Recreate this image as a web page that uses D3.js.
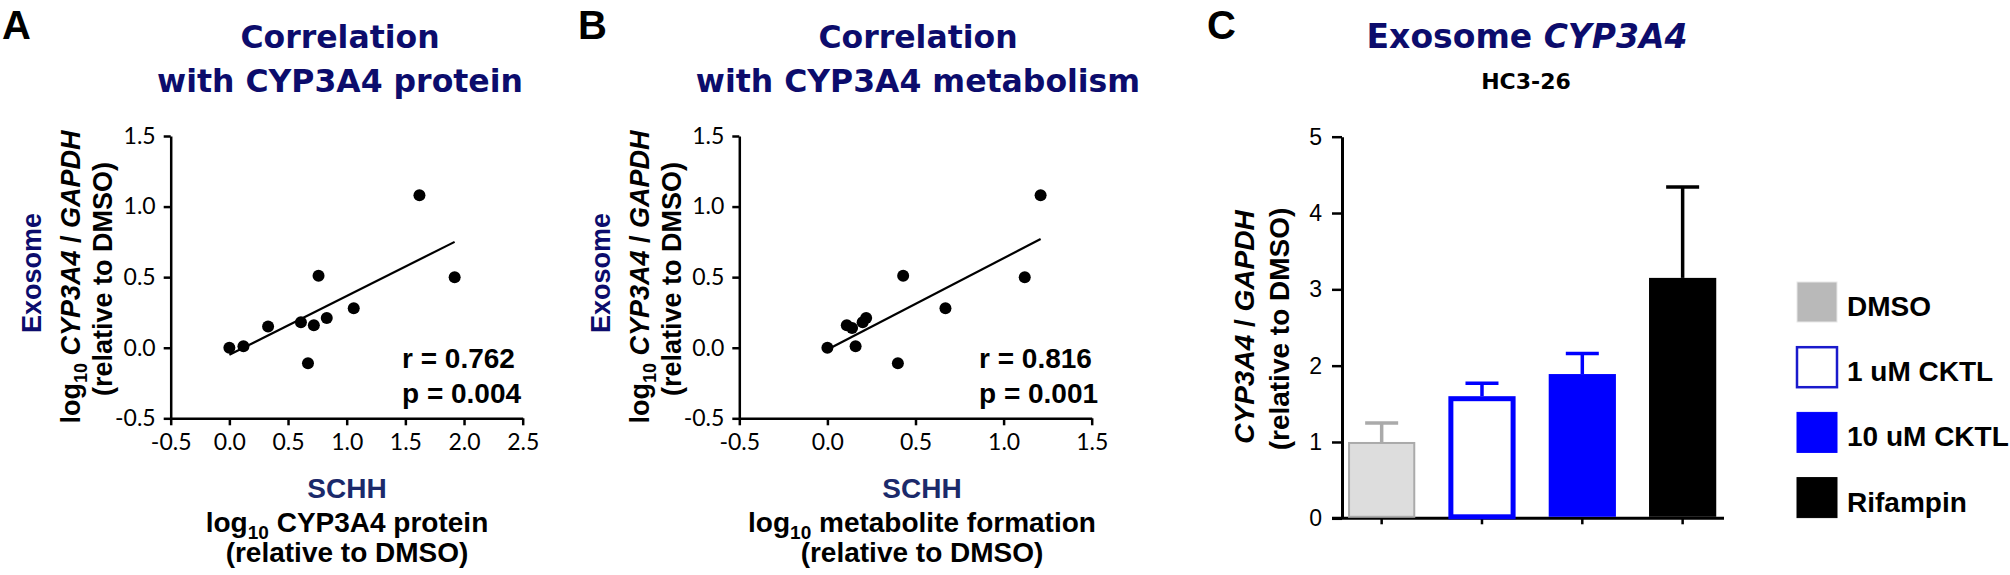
<!DOCTYPE html>
<html>
<head>
<meta charset="utf-8">
<script src="https://cdn.jsdelivr.net/npm/d3@7"></script>
<style>
  body { margin: 0; background: #fff; }
</style>
</head>
<body>
<div id="figure"></div>
<script>
// ---- data ----
// panel A: exosome CYP3A4 vs SCHH CYP3A4 protein (log10)
var protX = [0.00, 0.12, 0.33, 0.61, 0.72, 0.67, 0.76, 0.83, 1.06, 1.62, 1.92];
var protY = [0.00, 0.01, 0.15, 0.18, 0.16, -0.11, 0.51, 0.21, 0.28, 1.08, 0.50];
var protFit = [[0.00, -0.05], [1.92, 0.75]];
var protStats = ["r = 0.762", "p = 0.004"];
var protTicks = [-0.5, 0.0, 0.5, 1.0, 1.5, 2.0, 2.5];

// panel B: exosome CYP3A4 vs SCHH metabolite formation (log10)
var metabX = [0.00, 0.11, 0.14, 0.16, 0.20, 0.22, 0.40, 0.43, 0.67, 1.12, 1.21];
var metabY = [0.00, 0.16, 0.14, 0.01, 0.18, 0.21, -0.11, 0.51, 0.28, 0.50, 1.08];
var metabFit = [[0.02, 0.00], [1.21, 0.77]];
var metabStats = ["r = 0.816", "p = 0.001"];
var metabTicks = [-0.5, 0.0, 0.5, 1.0, 1.5];

var corrYTicks = [-0.5, 0.0, 0.5, 1.0, 1.5];

// panel C: exosome CYP3A4 in HC3-26
var groups = ["DMSO", "1 uM CKTL", "10 uM CKTL", "Rifampin"];
var means = [1.00, 1.60, 1.89, 3.15];
var sems = [0.25, 0.17, 0.27, 1.19];
var barTicks = [0, 1, 2, 3, 4, 5];

// styles
var navy = "#0c0c6c";
var barFill = ["#dddddd", "#ffffff", "#0000ff", "#000000"];
var barStroke = ["#aaaaaa", "#0000ff", "#0000ff", "#000000"];
var barStrokeW = [2, 5, 0, 0];
var errColor = ["#aaaaaa", "#0000ff", "#0000ff", "#000000"];
var keyFill = ["#b9b9b9", "#ffffff", "#0000ff", "#000000"];
var keyStroke = ["#e8e8e8", "#1a1acc", "#0000ff", "#000000"];

var W = 2010, H = 575;
var svg = d3.select("#figure").append("svg")
    .attr("width", W)
    .attr("height", H);

var titleFont = "'DejaVu Sans', Verdana, sans-serif",
    labelFont = "'Liberation Sans', Arial, sans-serif",
    tickFont = "Lato, 'Open Sans', sans-serif";

function styleAxis(g, font, size) {
  g.attr("font-family", font).attr("font-size", size);
  g.select(".domain").attr("stroke", "#000").attr("stroke-width", 2.5);
  g.selectAll(".tick line").attr("stroke", "#000").attr("stroke-width", 2.5);
  g.selectAll(".tick text").attr("fill", "#000");
}

// panel letters
[["A", 2], ["B", 578], ["C", 1207]].forEach(function(p) {
  svg.append("text")
      .attr("x", p[1]).attr("y", 39)
      .attr("font-family", labelFont)
      .attr("font-weight", "bold")
      .attr("font-size", 40)
      .text(p[0]);
});

// ---- scatter panels ----
function scatterPanel(o) {
  var x = d3.scaleLinear().domain(o.xDomain).range(o.xRange),
      y = d3.scaleLinear().domain([-0.5, 1.5]).range([418.3, 136]);

  var fmt = function(d) { return d.toFixed(1); };

  var gx = svg.append("g")
      .attr("transform", "translate(0," + y(-0.5) + ")")
      .call(d3.axisBottom(x).tickValues(o.xTicks).tickFormat(fmt)
            .tickSize(7).tickSizeOuter(0).tickPadding(8));
  styleAxis(gx, tickFont, 23);

  var gy = svg.append("g")
      .attr("transform", "translate(" + x(o.xDomain[0]) + ",0)")
      .call(d3.axisLeft(y).tickValues(corrYTicks).tickFormat(fmt)
            .tickSize(7).tickSizeOuter(0).tickPadding(8));
  styleAxis(gy, tickFont, 23);

  // fit line
  svg.append("line")
      .attr("x1", x(o.fit[0][0])).attr("y1", y(o.fit[0][1]))
      .attr("x2", x(o.fit[1][0])).attr("y2", y(o.fit[1][1]))
      .attr("stroke", "#000")
      .attr("stroke-width", 2.2);

  // dots
  svg.selectAll(null)
      .data(d3.zip(o.xs, o.ys))
      .enter().append("circle")
      .attr("cx", function(d) { return x(d[0]); })
      .attr("cy", function(d) { return y(d[1]); })
      .attr("r", 6)
      .attr("fill", "#000");

  // r and p
  o.stats.forEach(function(s, i) {
    svg.append("text")
        .attr("x", o.statX).attr("y", 368 + i * 35)
        .attr("font-family", labelFont)
        .attr("font-weight", "bold")
        .attr("font-size", 28)
        .text(s);
  });

  // title
  o.title.forEach(function(t, i) {
    svg.append("text")
        .attr("x", o.titleX).attr("y", 48 + i * 44)
        .attr("text-anchor", "middle")
        .attr("font-family", titleFont)
        .attr("font-weight", "bold")
        .attr("font-size", 31.5)
        .attr("fill", navy)
        .text(t);
  });

  // y title, rotated
  var yl = o.yLabelX, cy = 277;
  svg.append("text")
      .attr("transform", "translate(" + yl + "," + (cy - 4) + ") rotate(-90)")
      .attr("text-anchor", "middle")
      .attr("font-family", labelFont).attr("font-weight", "bold")
      .attr("font-size", 27).attr("fill", navy)
      .text("Exosome");

  var t2 = svg.append("text")
      .attr("transform", "translate(" + (yl + 39) + "," + cy + ") rotate(-90)")
      .attr("text-anchor", "middle")
      .attr("font-family", labelFont).attr("font-weight", "bold")
      .attr("font-size", 27);
  t2.append("tspan").text("log");
  t2.append("tspan").attr("font-size", 18).attr("dy", 7).text("10");
  t2.append("tspan").attr("dy", -7).text(" ");
  t2.append("tspan").attr("font-style", "italic").text("CYP3A4");
  t2.append("tspan").text(" / ");
  t2.append("tspan").attr("font-style", "italic").text("GAPDH");

  svg.append("text")
      .attr("transform", "translate(" + (yl + 71) + "," + (cy + 2) + ") rotate(-90)")
      .attr("text-anchor", "middle")
      .attr("font-family", labelFont).attr("font-weight", "bold")
      .attr("font-size", 27)
      .text("(relative to DMSO)");

  // x title
  svg.append("text")
      .attr("x", o.xLabelX).attr("y", 498)
      .attr("text-anchor", "middle")
      .attr("font-family", labelFont).attr("font-weight", "bold")
      .attr("font-size", 28).attr("fill", "#1b2a6b")
      .text("SCHH");

  var x2 = svg.append("text")
      .attr("x", o.xLabelX).attr("y", 532)
      .attr("text-anchor", "middle")
      .attr("font-family", labelFont).attr("font-weight", "bold")
      .attr("font-size", 28);
  x2.append("tspan").text("log");
  x2.append("tspan").attr("font-size", 19).attr("dy", 7).text("10");
  x2.append("tspan").attr("dy", -7).text(" " + o.xLabel);

  svg.append("text")
      .attr("x", o.xLabelX).attr("y", 562)
      .attr("text-anchor", "middle")
      .attr("font-family", labelFont).attr("font-weight", "bold")
      .attr("font-size", 28)
      .text("(relative to DMSO)");
}

scatterPanel({
  xs: protX, ys: protY, fit: protFit, stats: protStats,
  xDomain: [-0.5, 2.5], xRange: [170.7, 522.7], xTicks: protTicks,
  statX: 402, titleX: 340, yLabelX: 41, xLabelX: 347,
  title: ["Correlation", "with CYP3A4 protein"],
  xLabel: "CYP3A4 protein"
});

scatterPanel({
  xs: metabX, ys: metabY, fit: metabFit, stats: metabStats,
  xDomain: [-0.5, 1.5], xRange: [739.3, 1091.7], xTicks: metabTicks,
  statX: 979, titleX: 918, yLabelX: 609.6, xLabelX: 922,
  title: ["Correlation", "with CYP3A4 metabolism"],
  xLabel: "metabolite formation"
});

// ---- bar panel C ----
var xC = d3.scaleBand().domain(groups)
    .range([1331.5, 1732.8])
    .paddingInner(0.33).paddingOuter(0.165);
var yC = d3.scaleLinear().domain([0, 5]).range([518.3, 136.7]);

var gyC = svg.append("g")
    .attr("transform", "translate(1342,0)")
    .call(d3.axisLeft(yC).tickValues(barTicks).tickFormat(d3.format("d"))
          .tickSize(10).tickSizeOuter(0).tickPadding(10));
styleAxis(gyC, labelFont, 23);
gyC.select(".domain").attr("stroke-width", 3);

var gxC = svg.append("g")
    .attr("transform", "translate(0," + yC(0) + ")")
    .call(d3.axisBottom(xC).tickSize(6).tickSizeOuter(0).tickFormat(""));
styleAxis(gxC, labelFont, 23);
gxC.select(".domain").attr("d", "M1332,0H1724").attr("stroke-width", 3);

// error bars (upper only) under the bars
groups.forEach(function(g, i) {
  var cx = xC(g) + xC.bandwidth() / 2;
  var top = yC(means[i] + sems[i]);
  svg.append("line")
      .attr("x1", cx).attr("x2", cx)
      .attr("y1", yC(means[i])).attr("y2", top)
      .attr("stroke", errColor[i]).attr("stroke-width", 3.5);
  svg.append("line")
      .attr("x1", cx - 16.5).attr("x2", cx + 16.5)
      .attr("y1", top).attr("y2", top)
      .attr("stroke", errColor[i]).attr("stroke-width", 3.5);
});

svg.selectAll(".bar")
    .data(groups)
    .enter().append("rect")
    .attr("class", "bar")
    .attr("x", function(d, i) { return xC(d) + barStrokeW[i] / 2; })
    .attr("y", function(d, i) { return yC(means[i]) + barStrokeW[i] / 2; })
    .attr("width", function(d, i) { return xC.bandwidth() - barStrokeW[i]; })
    .attr("height", function(d, i) { return yC(0) - yC(means[i]) - barStrokeW[i] / 2 - 1.5; })
    .attr("fill", function(d, i) { return barFill[i]; })
    .attr("stroke", function(d, i) { return barStrokeW[i] ? barStroke[i] : "none"; })
    .attr("stroke-width", function(d, i) { return barStrokeW[i]; });

// title C
var tC = svg.append("text")
    .attr("x", 1527).attr("y", 48)
    .attr("text-anchor", "middle")
    .attr("font-family", titleFont).attr("font-weight", "bold")
    .attr("font-size", 33).attr("fill", navy);
tC.append("tspan").text("Exosome ");
tC.append("tspan").attr("font-style", "italic").text("CYP3A4");

svg.append("text")
    .attr("x", 1526).attr("y", 89)
    .attr("text-anchor", "middle")
    .attr("font-family", titleFont).attr("font-weight", "bold")
    .attr("font-size", 22)
    .text("HC3-26");

// y title C
var yt = svg.append("text")
    .attr("transform", "translate(1254,327) rotate(-90)")
    .attr("text-anchor", "middle")
    .attr("font-family", labelFont).attr("font-weight", "bold")
    .attr("font-size", 28);
yt.append("tspan").attr("font-style", "italic").text("CYP3A4");
yt.append("tspan").text(" / ");
yt.append("tspan").attr("font-style", "italic").text("GAPDH");

svg.append("text")
    .attr("transform", "translate(1289,329) rotate(-90)")
    .attr("text-anchor", "middle")
    .attr("font-family", labelFont).attr("font-weight", "bold")
    .attr("font-size", 28)
    .text("(relative to DMSO)");

// legend
var key = svg.selectAll(".key")
    .data(groups)
    .enter().append("g")
    .attr("class", "key")
    .attr("transform", function(d, i) { return "translate(1797," + (282 + i * 65.2) + ")"; });

key.append("rect")
    .attr("x", 0).attr("y", 0)
    .attr("width", 40).attr("height", 40)
    .attr("fill", function(d, i) { return keyFill[i]; })
    .attr("stroke", function(d, i) { return keyStroke[i]; })
    .attr("stroke-width", function(d, i) { return i == 1 ? 2.5 : 1; });

key.append("text")
    .attr("x", 50).attr("y", 34)
    .attr("font-family", labelFont).attr("font-weight", "bold")
    .attr("font-size", 28)
    .text(function(d) { return d; });
</script>
</body>
</html>
